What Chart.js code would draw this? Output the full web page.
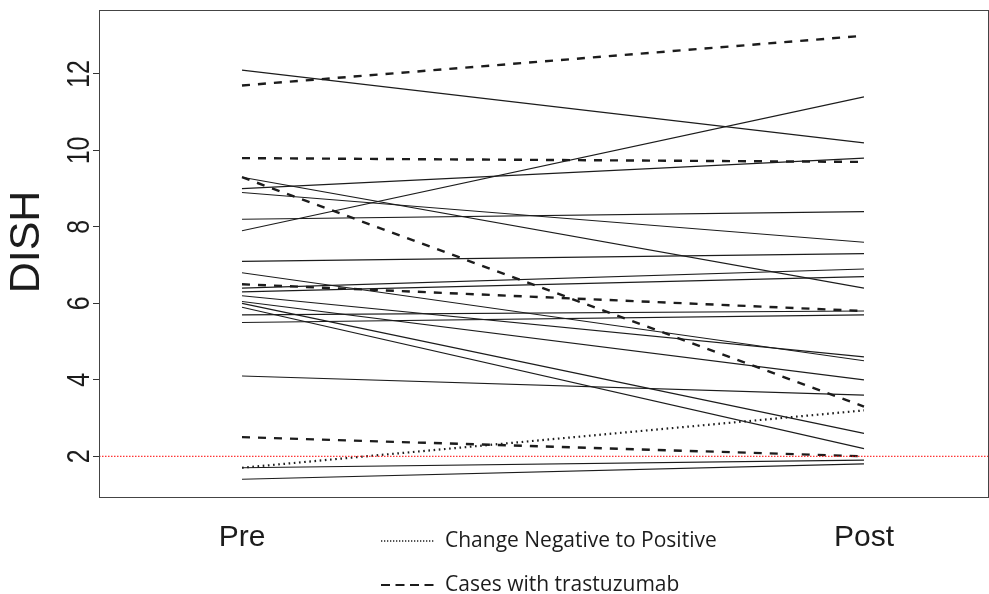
<!DOCTYPE html>
<html><head><meta charset="utf-8">
<script src="https://cdn.jsdelivr.net/npm/chart.js@4"></script>
<style>html,body{margin:0;padding:0;background:#fff}#wrap{width:989px;height:594px}</style>
</head><body><div id="wrap"><canvas id="c" width="989" height="594"></canvas></div>
<script>
// ---- data ----
const categories = ['Pre', 'Post'];
const categoryX = [1, 2];
const preValues  = [12.1, 11.7, 9.8, 9.3, 9.3, 9.0, 8.9, 8.2, 7.9, 7.1, 6.8, 6.5, 6.4, 6.3, 6.2, 6.05, 6.0, 5.9, 5.7, 5.5, 4.1, 1.7, 1.4, 2.5, 1.7];
const postValues = [10.2, 13.0, 9.7, 6.4, 3.3, 9.8, 7.6, 8.4, 11.4, 7.3, 4.5, 5.8, 6.9, 6.7, 4.6, 4.0, 2.6, 2.2, 5.8, 5.7, 3.6, 1.9, 1.8, 2.0, 3.2];
const lineTypes  = ['solid','dashed','dashed','solid','dashed','solid','solid','solid','solid','solid','solid','dashed','solid','solid','solid','solid','solid','solid','solid','solid','solid','solid','solid','dashed','dotted'];
const yTicks = [2, 4, 6, 8, 10, 12];
const thresholdValue = 2;
const yAxisTitle = 'DISH';
const legendLabels = ['Change Negative to Positive', 'Cases with trastuzumab'];
const legendTypes = ['dotted', 'dashed'];

// ---- layout ----
const xMin = 0.7701, xMax = 2.1994;
const yMin = 0.935, yMax = 13.674;
const INK = '#1c1c1c';

const styleFor = t => t === 'dashed' ? {borderWidth: 2.4, borderDash: [8, 8]}
                   : t === 'dotted' ? {borderWidth: 2.2, borderDash: [1.6, 3.6]}
                   : {borderWidth: 1.15, borderDash: []};

const datasets = [];
preValues.forEach((p, i) => {
  const s = styleFor(lineTypes[i]);
  datasets.push({
    data: [{x: categoryX[0], y: p}, {x: categoryX[1], y: postValues[i]}],
    borderColor: INK, borderWidth: s.borderWidth, borderDash: s.borderDash,
    pointRadius: 0, tension: 0, fill: false, order: 2
  });
});
datasets.push({
  data: [{x: xMin, y: thresholdValue}, {x: xMax, y: thresholdValue}],
  borderColor: 'rgb(255,0,0)', borderWidth: 1, borderDash: [1.5, 1.5],
  pointRadius: 0, tension: 0, fill: false, order: 1
});

const decor = {
  id: 'decor',
  afterDraw(chart) {
    const {ctx, chartArea: a, scales: {y}} = chart;
    ctx.save();
    // box
    ctx.strokeStyle = '#444'; ctx.lineWidth = 1; ctx.setLineDash([]);
    ctx.strokeRect(a.left + 0.5, a.top + 0.5, a.right - a.left, a.bottom - a.top);
    // y tick labels (rotated)
    ctx.fillStyle = INK;
    ctx.textAlign = 'center'; ctx.textBaseline = 'middle';
    ctx.font = '32px "Liberation Sans", Arial, sans-serif';
    yTicks.forEach(v => {
      const py = y.getPixelForValue(v);
      ctx.save();
      ctx.translate(80.5, py);
      ctx.rotate(-Math.PI / 2);
      ctx.scale(0.78, 1);
      ctx.fillText(String(v), 0, 0);
      ctx.restore();
    });
    // axis title
    ctx.save();
    ctx.font = '43px "Liberation Sans", Arial, sans-serif';
    ctx.translate(27.5, 242);
    ctx.rotate(-Math.PI / 2);
    ctx.fillText(yAxisTitle, 0, 0);
    ctx.restore();
    // legend
    const rows = [541, 585];
    ctx.font = '21px "Open Sans", sans-serif';
    ctx.textAlign = 'left';
    legendLabels.forEach((lab, i) => {
      const yy = rows[i];
      ctx.beginPath();
      ctx.strokeStyle = INK;
      if (legendTypes[i] === 'dotted') { ctx.lineWidth = 1.6; ctx.setLineDash([1.3, 1.7]); }
      else { ctx.lineWidth = 2; ctx.setLineDash([9, 5.5]); }
      ctx.moveTo(381, yy); ctx.lineTo(435, yy); ctx.stroke();
      ctx.setLineDash([]);
      ctx.fillStyle = INK;
      ctx.fillText(lab, 445, yy);
    });
    ctx.restore();
  }
};

new Chart(document.getElementById('c'), {
  type: 'line',
  data: {datasets},
  plugins: [decor],
  options: {
    responsive: false, animation: false, devicePixelRatio: 1,
    layout: {padding: {left: 0, right: 1, top: 10, bottom: 0}},
    plugins: {legend: {display: false}, tooltip: {enabled: false}},
    scales: {
      x: {
        type: 'linear', min: xMin, max: xMax,
        afterBuildTicks: s => { s.ticks = categoryX.map(v => ({value: v})); },
        ticks: {
          callback: v => categories[categoryX.indexOf(Math.round(v))] || '',
          font: {family: '"Liberation Sans", Arial, sans-serif', size: 30},
          color: INK, padding: 23, autoSkip: false, maxRotation: 0, minRotation: 0
        },
        grid: {display: false, drawTicks: false},
        border: {display: false},
        afterFit: s => { s.height = 97; }
      },
      y: {
        type: 'linear', min: yMin, max: yMax,
        afterBuildTicks: s => { s.ticks = yTicks.map(v => ({value: v})); },
        ticks: {display: false},
        grid: {drawOnChartArea: false, drawTicks: true, tickLength: 6, color: '#333', lineWidth: 1},
        border: {display: false},
        afterFit: s => { s.width = 99; }
      }
    }
  }
});
</script></body></html>
